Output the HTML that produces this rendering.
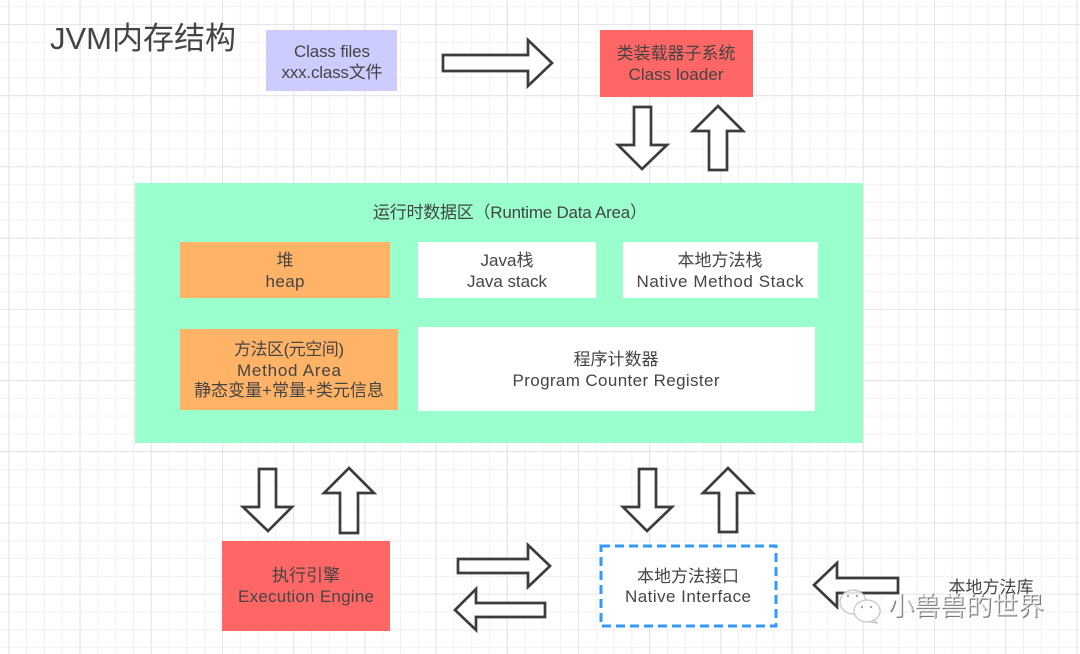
<!DOCTYPE html>
<html><head><meta charset="utf-8"><style>
html,body{margin:0;padding:0;background:#fff}
svg{display:block;filter:blur(.35px)}
text{font-family:"Liberation Sans","Noto Sans CJK SC",sans-serif;fill:#444;font-size:17px;text-anchor:middle}
.a{fill:#fff;stroke:#3c3c3c;stroke-width:2.7;stroke-linejoin:miter}
</style></head><body>
<svg width="1080" height="654" viewBox="0 0 1080 654" xmlns="http://www.w3.org/2000/svg">
<defs>
<pattern id="minor" x="8.4" y="6.3" width="17.8" height="17.8" patternUnits="userSpaceOnUse"><path d="M0 0V17.8M0 0H17.8" fill="none" stroke="#eeeeee" stroke-width="1.6"/></pattern>
<pattern id="major" x="8.4" y="24.1" width="71.2" height="71.2" patternUnits="userSpaceOnUse"><path d="M0 0V71.2M0 0H71.2" fill="none" stroke="#e0e0e0" stroke-width="1.6"/></pattern>
</defs>
<rect width="1080" height="654" fill="#fff"/>
<rect width="1080" height="654" fill="url(#minor)"/>
<rect width="1080" height="654" fill="url(#major)"/>

<text x="143" y="49" style="font-size:31px">JVM内存结构</text>

<rect x="266" y="30" width="131" height="61" fill="#ccccff"/>
<text x="332" y="57" textLength="76">Class files</text>
<text x="332" y="78" textLength="101">xxx.class文件</text>

<rect x="600" y="30" width="153" height="67" fill="#ff6666"/>
<text x="676" y="59">类装载器子系统</text>
<text x="676" y="80" textLength="95">Class loader</text>

<rect x="135" y="183" width="728" height="260" fill="#99ffcc"/>
<text x="510" y="218" textLength="274">运行时数据区（Runtime Data Area）</text>

<rect x="180" y="242" width="210" height="56" fill="#ffb366"/>
<text x="285" y="266">堆</text>
<text x="285" y="287" textLength="39">heap</text>

<rect x="418" y="242" width="178" height="56" fill="#fff"/>
<text x="507" y="266">Java栈</text>
<text x="507" y="287" textLength="80">Java stack</text>

<rect x="623" y="242" width="195" height="56" fill="#fff"/>
<text x="720" y="266">本地方法栈</text>
<text x="720" y="287" textLength="167">Native Method Stack</text>

<rect x="180" y="329" width="218" height="81" fill="#ffb366"/>
<text x="289" y="355" textLength="110">方法区(元空间)</text>
<text x="289" y="376" textLength="104">Method Area</text>
<text x="289" y="396">静态变量+常量+类元信息</text>

<rect x="418" y="327" width="397" height="84" fill="#fff"/>
<text x="616" y="365">程序计数器</text>
<text x="616" y="386" textLength="207">Program Counter Register</text>

<rect x="222" y="541" width="168" height="90" fill="#ff6666"/>
<text x="306" y="581">执行引擎</text>
<text x="306" y="602" textLength="136">Execution Engine</text>

<rect x="601" y="546" width="175" height="80" fill="#fff" stroke="#3399ff" stroke-width="3" stroke-dasharray="9 5"/>
<text x="688" y="582">本地方法接口</text>
<text x="688" y="602" textLength="126">Native Interface</text>

<polygon class="a" points="443,55 528,55 528,40 552,63 528,86 528,71 443,71"/>
<polygon class="a" points="634,107 651,107 651,145 667,145 642,169 618,145 634,145"/>
<polygon class="a" points="718,106 743,131 727,131 727,170 709,170 709,131 693,131"/>
<polygon class="a" points="259,469 276,469 276,507 292,507 268,531 243,507 259,507"/>
<polygon class="a" points="349,468 374,493 358,493 358,533 340,533 340,493 324,493"/>
<polygon class="a" points="639,469 656,469 656,507 672,507 647,531 623,507 639,507"/>
<polygon class="a" points="728,468 753,493 737,493 737,532 719,532 719,493 703,493"/>
<polygon class="a" points="458,559 528,559 528,545 550,566 528,587 528,573 458,573"/>
<polygon class="a" points="455,610 476,589 476,603 545,603 545,617 476,617 476,630"/>
<polygon class="a" points="814,585 837,563 837,578 898,578 898,593 837,593 837,607"/>

<text x="991" y="593">本地方法库</text>

<g fill="#fff" fill-opacity=".85" stroke="#c4c4c4" stroke-width="1.2">
<ellipse cx="853" cy="602" rx="13" ry="12"/>
<ellipse cx="867" cy="611" rx="13" ry="11"/>
<path d="M874 620l3 3-7-1z"/>
</g>
<g fill="#8a8a8a"><circle cx="848" cy="596" r="1"/><circle cx="857" cy="596" r="1"/><circle cx="862" cy="607" r="1"/><circle cx="871" cy="607" r="1"/></g>
<text x="967" y="616" style="font-size:26px;fill:#777">小兽兽的世界</text>
<text x="966" y="615" style="font-size:26px;fill:#fff;fill-opacity:.7">小兽兽的世界</text>
</svg>
</body></html>
